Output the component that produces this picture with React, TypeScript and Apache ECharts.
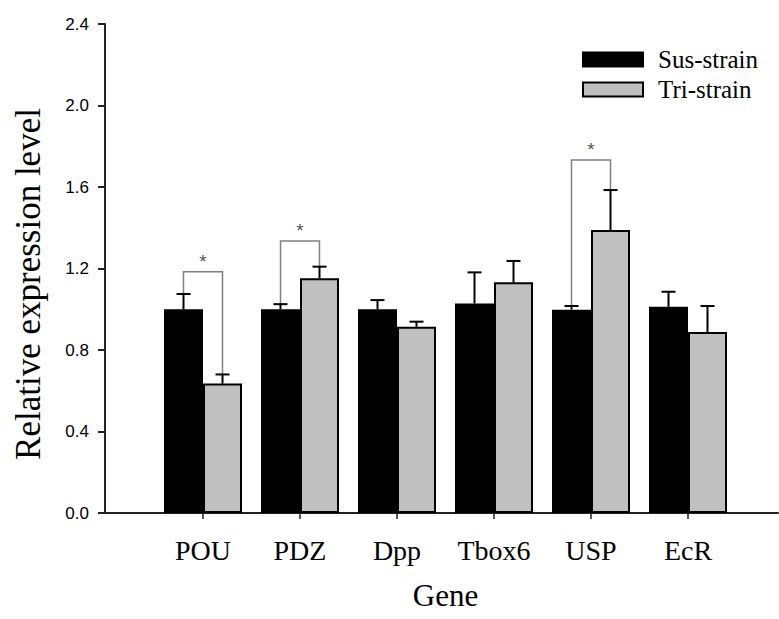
import React, { useEffect, useRef } from "react";
import * as echarts from "echarts";

const genes = ["POU", "PDZ", "Dpp", "Tbox6", "USP", "EcR"];
const susMean = [1.0, 1.0, 1.0, 1.028, 0.998, 1.012];
const susErr = [0.075, 0.025, 0.045, 0.153, 0.018, 0.074];
const triMean = [0.635, 1.152, 0.914, 1.132, 1.389, 0.888];
const triErr = [0.045, 0.057, 0.025, 0.105, 0.196, 0.128];
const sigCats = [0, 1, 4];
const sigTop = [1.184, 1.335, 1.733];
const yTicks = { min: 0, max: 2.4, interval: 0.4 };

const SERIF = "'Liberation Serif', 'Times New Roman', serif";
const SANS = "'Liberation Sans', Arial, sans-serif";
const BAR_W = 39;

function errSeries(means: number[], errs: number[], offset: number) {
  return {
    type: "custom",
    xAxisIndex: 0,
    yAxisIndex: 0,
    silent: true,
    z: 4,
    data: means.map((m, i) => [i, m, m + errs[i]]),
    encode: { x: 0, y: [1, 2] },
    renderItem: (_p: any, api: any) => {
      const i = api.value(0);
      const lo = api.coord([i, api.value(1)]);
      const hi = api.coord([i, api.value(2)]);
      const x = lo[0] + offset;
      return {
        type: "group",
        children: [
          { type: "line", shape: { x1: x, y1: lo[1], x2: x, y2: hi[1] }, style: { stroke: "#000", lineWidth: 2 } },
          { type: "line", shape: { x1: x - 7, y1: hi[1], x2: x + 7, y2: hi[1] }, style: { stroke: "#000", lineWidth: 2 } },
        ],
      };
    },
  };
}

export default function App() {
  const ref = useRef<HTMLDivElement>(null);
  useEffect(() => {
    document.body.style.margin = "0";
    const chart = echarts.init(ref.current!, null, { renderer: "svg" });
    const sigData = sigCats.map((c, k) => [c, sigTop[k], susMean[c] + susErr[c], triMean[c] + triErr[c]]);
    chart.setOption({
      animation: false,
      backgroundColor: "#fff",
      grid: [
        { left: 154.5, right: 42.5, top: 24, bottom: 106 },
        { left: 105, right: 1, top: 24, bottom: 106 },
      ],
      legend: {
        data: ["Sus-strain", "Tri-strain"],
        orient: "vertical",
        left: 582,
        top: 47,
        padding: 0,
        itemWidth: 60,
        itemHeight: 14,
        itemGap: 5,
        icon: "rect",
        textStyle: { fontFamily: SERIF, fontSize: 25, color: "#000", padding: [0, 0, 0, 10] },
      },
      xAxis: [
        {
          type: "category",
          gridIndex: 0,
          data: genes,
          axisLine: { show: false },
          axisTick: { show: true, alignWithLabel: true, length: 6, lineStyle: { color: "#222", width: 1.5 } },
          axisLabel: { fontFamily: SERIF, fontSize: 28, color: "#000", margin: 23 },
          name: "Gene",
          nameLocation: "middle",
          nameGap: 67,
          nameTextStyle: { fontFamily: SERIF, fontSize: 31, color: "#000" },
        },
        {
          type: "value",
          gridIndex: 1,
          min: 0,
          max: 1,
          axisLine: { show: true, onZero: false, lineStyle: { color: "#222", width: 2 } },
          axisTick: { show: false },
          axisLabel: { show: false },
          splitLine: { show: false },
        },
      ],
      yAxis: [
        { type: "value", gridIndex: 0, ...yTicks, show: false, splitLine: { show: false } },
        {
          type: "value",
          gridIndex: 1,
          ...yTicks,
          axisLine: { show: true, lineStyle: { color: "#222", width: 2 } },
          axisTick: { show: true, length: 7, lineStyle: { color: "#222", width: 2 } },
          axisLabel: { fontFamily: SANS, fontSize: 17, color: "#000", margin: 16, formatter: (v: number) => v.toFixed(1) },
          splitLine: { show: false },
        },
      ],
      graphic: [
        {
          type: "text",
          x: 28,
          y: 284,
          rotation: Math.PI / 2,
          style: {
            text: "Relative expression level",
            font: `35px ${SERIF}`,
            fill: "#000",
            textAlign: "center",
            textVerticalAlign: "middle",
          },
        },
      ],
      series: [
        {
          name: "Sus-strain",
          type: "bar",
          xAxisIndex: 0,
          yAxisIndex: 0,
          data: susMean,
          barWidth: BAR_W,
          barGap: "0%",
          itemStyle: { color: "#000", borderColor: "#000", borderWidth: 2 },
          z: 2,
        },
        {
          name: "Tri-strain",
          type: "bar",
          xAxisIndex: 0,
          yAxisIndex: 0,
          data: triMean,
          barWidth: BAR_W,
          barGap: "0%",
          itemStyle: { color: "#c0c0c0", borderColor: "#000", borderWidth: 2 },
          z: 2,
        },
        errSeries(susMean, susErr, -BAR_W / 2),
        errSeries(triMean, triErr, BAR_W / 2),
        {
          type: "custom",
          xAxisIndex: 0,
          yAxisIndex: 0,
          silent: true,
          z: 3,
          data: sigData,
          encode: { x: 0, y: [1, 2, 3] },
          renderItem: (_p: any, api: any) => {
            const c = api.value(0);
            const top = api.coord([c, api.value(1)]);
            const l = api.coord([c, api.value(2)]);
            const r = api.coord([c, api.value(3)]);
            const xl = top[0] - BAR_W / 2;
            const xr = top[0] + BAR_W / 2;
            const st = { stroke: "#808080", lineWidth: 1.5, fill: null };
            return {
              type: "group",
              children: [
                { type: "polyline", shape: { points: [[xl, l[1]], [xl, top[1]], [xr, top[1]], [xr, r[1]]] }, style: st },
                {
                  type: "text",
                  style: {
                    text: "*",
                    x: top[0],
                    y: top[1] - 1,
                    textAlign: "center",
                    textVerticalAlign: "bottom",
                    fill: "#555",
                    font: `19px ${SANS}`,
                  },
                },
              ],
            };
          },
        },
      ],
    });
    return () => chart.dispose();
  }, []);
  return <div ref={ref} style={{ width: 779, height: 619 }} />;
}
